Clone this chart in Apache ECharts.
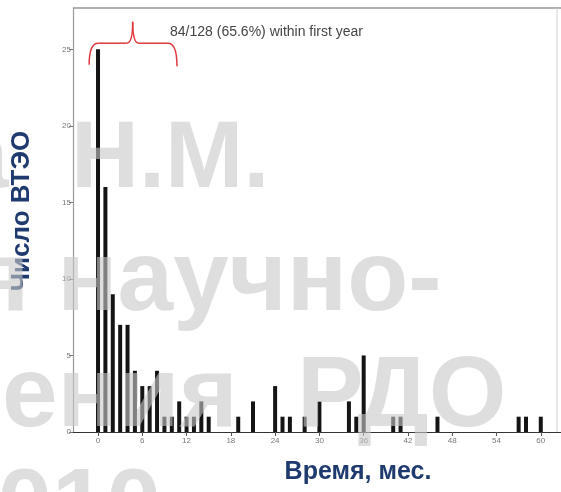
<!DOCTYPE html>
<html><head><meta charset="utf-8">
<script src="https://cdn.jsdelivr.net/npm/echarts@6/dist/echarts.min.js"></script>
<style>html,body{margin:0;padding:0;background:#fff}#c{width:561px;height:492px}</style>
</head><body><div id="c"></div>
<script>
const months = [0,1,2,3,4,5,6,7,8,9,10,11,12,13,14,15,19,21,24,25,26,28,30,34,35,36,40,41,46,57,58,60];
const counts = [25,16,9,7,7,4,3,3,4,1,1,2,1,1,2,1,1,2,3,1,1,1,2,2,1,5,1,1,1,1,1,1];
const xTicks = [0,6,12,18,24,30,36,42,48,54,60];
const yTicks = [0,5,10,15,20,25];
const annotationText = '84/128 (65.6%) within first year';
const xTitle = 'Время, мес.';
const yTitle = 'Число ВТЭО';
const watermarkLines = ['Н.М.', 'я научно-', 'ения РДО', '2010-'];

const chart = echarts.init(document.getElementById('c'), null, {renderer: 'canvas'});
chart.setOption({
  animation: false,
  grid: {left: 73, top: 8, right: 0, bottom: 60},
  xAxis: {
    type: 'value', min: -3.39, max: 62.74,
    axisLine: {lineStyle: {color: '#333', width: 1}},
    axisTick: {customValues: xTicks, length: 4, lineStyle: {color: '#555'}},
    axisLabel: {customValues: xTicks, fontSize: 8, color: '#777', margin: 5, fontFamily: 'Liberation Sans'},
    splitLine: {show: false}
  },
  yAxis: {
    type: 'value', min: 0, max: 27.7,
    axisLine: {show: true, onZero: false, lineStyle: {color: '#999', width: 1.2}},
    axisTick: {show: true, customValues: yTicks, length: 4, lineStyle: {color: '#777'}},
    axisLabel: {customValues: yTicks, fontSize: 8, color: '#777', margin: 2, fontFamily: 'Liberation Sans'},
    splitLine: {show: false}
  },
  series: [{
    type: 'bar',
    data: months.map((m, i) => [m, counts[i]]),
    barWidth: 4,
    itemStyle: {color: '#141414'}
  }]
});

const P = (x, y) => chart.convertToPixel({gridIndex: 0}, [x, y]);
const bl = P(-1.2, 24.0), bm = P(-1.2, 25.4), bc = P(4.7, 25.4), bt = P(4.7, 26.8), br = P(10.7, 25.4), brl = P(10.7, 23.9);
const braceStyle = {stroke: '#e0383c', lineWidth: 1.5, fill: null};
const ann = P(9.76, 26.1);
const wm = (size) => ({fill: 'rgba(200,200,200,0.6)', font: 'bold ' + size + 'px "Liberation Sans", Arial, sans-serif', textAlign: 'left', textVerticalAlign: 'middle', align: 'left', verticalAlign: 'middle'});
const line3 = watermarkLines[2].split(' ');

chart.setOption({
  graphic: [
    {type: 'line', shape: {x1: 73, y1: 8, x2: 561, y2: 8}, style: {stroke: '#999', lineWidth: 1.5}, z: 5},
    {type: 'line', shape: {x1: 557, y1: 8, x2: 557, y2: 432}, style: {stroke: '#d0d0d0', lineWidth: 1}, z: 5},
    {type: 'bezierCurve', shape: {x1: bl[0], y1: bl[1], cpx1: bm[0], cpy1: bm[1], x2: bm[0] + 9, y2: bm[1]}, style: braceStyle, z: 10},
    {type: 'line', shape: {x1: bm[0] + 9, y1: bm[1], x2: bc[0] - 6, y2: bc[1]}, style: braceStyle, z: 10},
    {type: 'bezierCurve', shape: {x1: bc[0] - 6, y1: bc[1], cpx1: bc[0], cpy1: bc[1], x2: bt[0], y2: bt[1]}, style: braceStyle, z: 10},
    {type: 'bezierCurve', shape: {x1: bt[0], y1: bt[1], cpx1: bc[0], cpy1: bc[1], x2: bc[0] + 6, y2: bc[1]}, style: braceStyle, z: 10},
    {type: 'line', shape: {x1: bc[0] + 6, y1: bc[1], x2: br[0] - 9, y2: br[1]}, style: braceStyle, z: 10},
    {type: 'bezierCurve', shape: {x1: br[0] - 9, y1: br[1], cpx1: br[0], cpy1: br[1], x2: brl[0], y2: brl[1]}, style: braceStyle, z: 10},
    {type: 'text', x: ann[0], y: ann[1], style: {text: annotationText, fill: '#444', font: '14px "Liberation Sans", Arial, sans-serif', textVerticalAlign: 'middle', verticalAlign: 'middle'}, z: 10},
    {type: 'text', x: 358, y: 472, style: {text: xTitle, fill: '#1f3a6e', font: 'bold 25px "Liberation Sans", Arial, sans-serif', textAlign: 'center', textVerticalAlign: 'middle', align: 'center', verticalAlign: 'middle'}, z: 10},
    {type: 'text', x: 22, y: 211, rotation: Math.PI / 2, style: {text: yTitle, fill: '#1f3a6e', font: 'bold 26px "Liberation Sans", Arial, sans-serif', textAlign: 'center', textVerticalAlign: 'middle', align: 'center', verticalAlign: 'middle'}, z: 10},
    {type: 'text', x: -45, y: 161, style: Object.assign({text: 'а'}, wm(96)), z: 100},
    {type: 'text', x: 71, y: 161, style: Object.assign({text: watermarkLines[0]}, wm(94)), z: 100},
    {type: 'text', x: -29, y: 282, style: Object.assign({text: watermarkLines[1]}, wm(100)), z: 100},
    {type: 'text', x: 2, y: 398, style: Object.assign({text: line3[0]}, wm(100)), z: 100},
    {type: 'text', x: 297, y: 398, style: Object.assign({text: line3[1]}, wm(100)), z: 100},
    {type: 'text', x: -57, y: 510, style: Object.assign({text: watermarkLines[3]}, wm(98)), z: 100}
  ]
});
</script></body></html>
